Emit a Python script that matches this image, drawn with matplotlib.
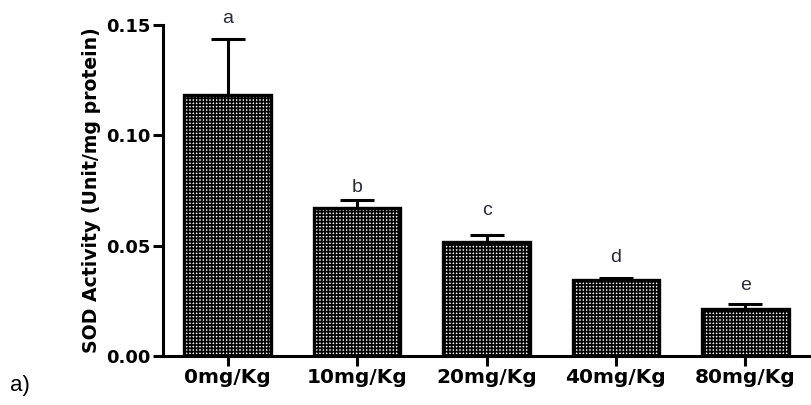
import matplotlib
matplotlib.use("Agg")
import matplotlib.pyplot as plt

categories = ["0mg/Kg", "10mg/Kg", "20mg/Kg", "40mg/Kg", "80mg/Kg"]
sod_mean = [0.1183, 0.0671, 0.0517, 0.0344, 0.0213]
sod_sem = [0.0254, 0.0036, 0.0031, 0.0009, 0.0023]
letters = ["a", "b", "c", "d", "e"]
yticks = [0.00, 0.05, 0.10, 0.15]
ytick_labels = ["0.00", "0.05", "0.10", "0.15"]

plt.rcParams["font.family"] = ["DejaVu Sans"]
plt.rcParams["hatch.linewidth"] = 1.25

fig = plt.figure(figsize=(8.12, 4.05), dpi=100)
ax = fig.add_axes([0.2007, 0.121, 0.797, 0.817])

x = list(range(len(categories)))
ax.bar(x, sod_mean, width=0.67, color="white", edgecolor="black",
       hatch="+++++", linewidth=0, zorder=2)
ax.bar(x, sod_mean, width=0.67, fill=False, edgecolor="black",
       linewidth=2.4, zorder=3)
ax.errorbar(x, sod_mean, yerr=[[0] * len(x), sod_sem], fmt="none",
            ecolor="black", elinewidth=2.2, capsize=12.5, capthick=2.2,
            zorder=4)

letter_offsets = [21, 13, 25, 21, 18]
for xi, m, s, lab, off in zip(x, sod_mean, sod_sem, letters, letter_offsets):
    ax.annotate(lab, (xi, m + s), xytext=(0, off * 0.72),
                textcoords="offset points", ha="center", va="center",
                fontsize=14, color="#2a2a3a", family="Liberation Sans",
                annotation_clip=False)

ax.set_xlim(-0.5, 4.5)
ax.set_ylim(0, 0.15)
ax.set_yticks(yticks)
ax.set_yticklabels(ytick_labels, fontweight="bold", fontsize=13)
ax.set_xticks(x)
ax.set_xticklabels(categories, fontweight="bold", fontsize=14.5)
ax.spines["top"].set_visible(False)
ax.spines["right"].set_visible(False)
ax.spines["left"].set_linewidth(2.2)
ax.spines["bottom"].set_linewidth(2.2)
ax.tick_params(axis="both", width=2.2, length=7, direction="out")
ax.tick_params(axis="y", pad=2)
ax.tick_params(axis="x", pad=2)
ax.set_ylabel("SOD Activity (Unit/mg protein)", fontweight="bold",
              fontsize=13.6, labelpad=4)

fig.text(0.012, 0.049, "a)", fontsize=16, ha="left", va="center",
         family="Liberation Sans")

fig.savefig("out.png", dpi=100)
